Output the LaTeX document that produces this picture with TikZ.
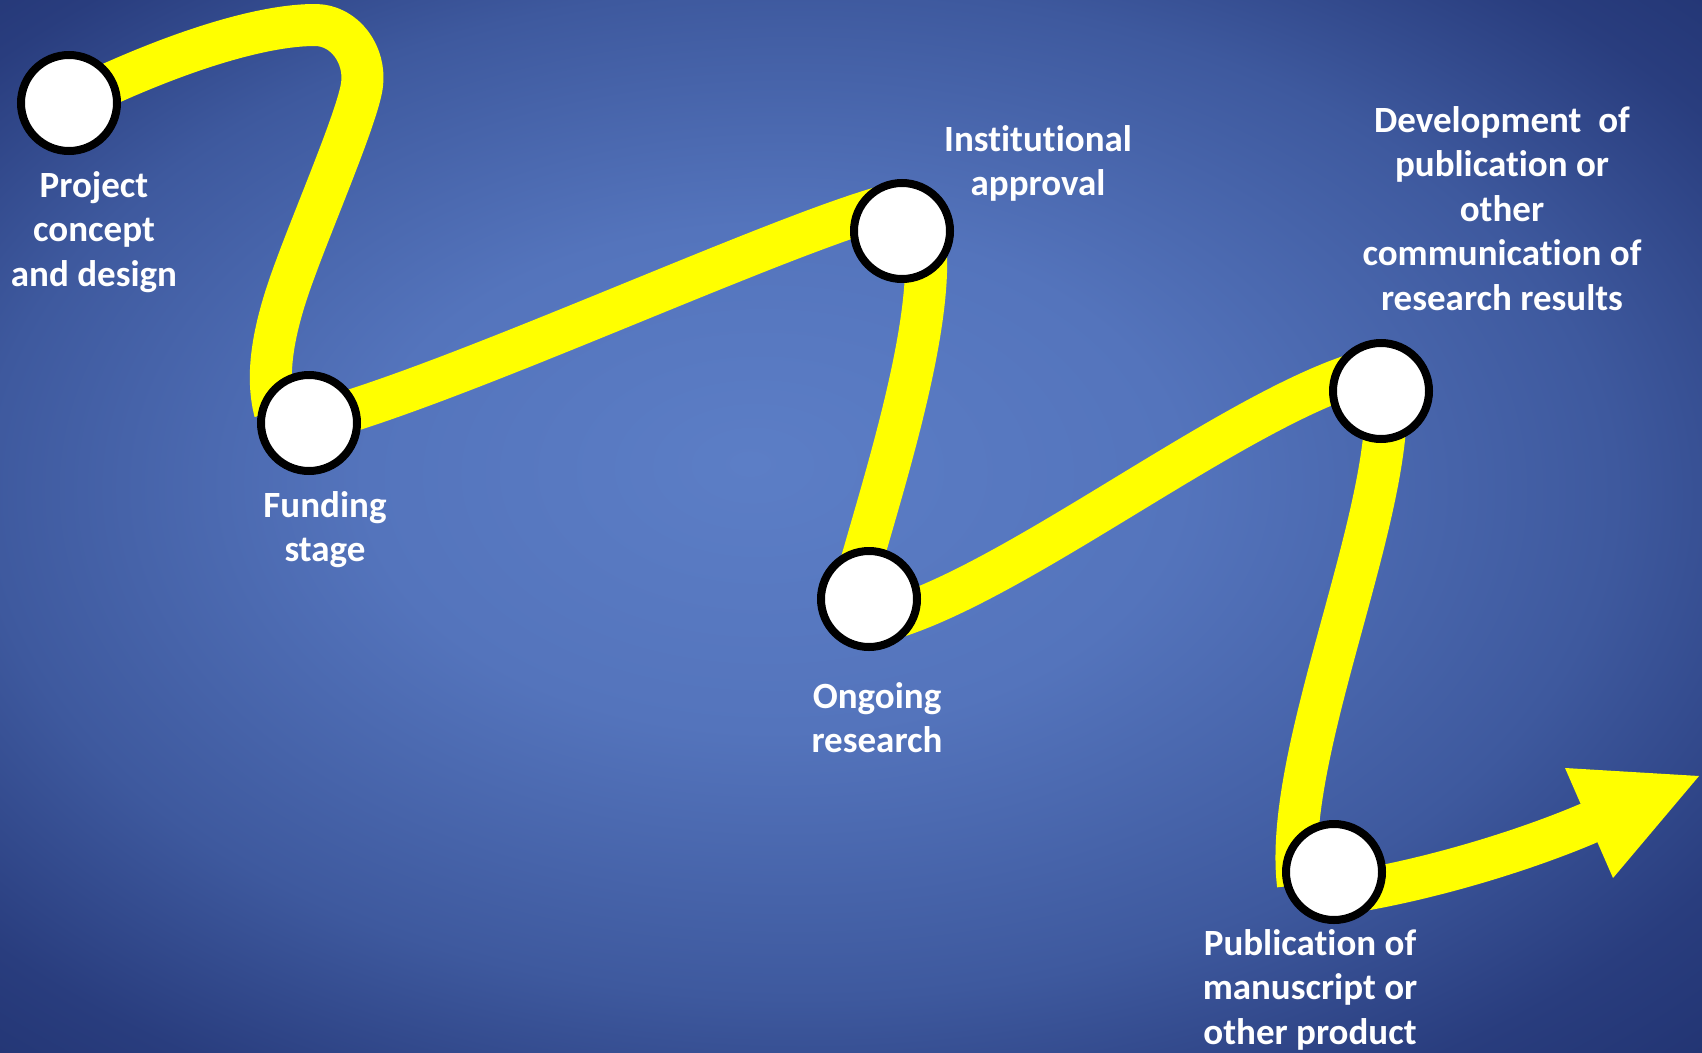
\documentclass[tikz,border=0pt]{standalone}
\usepackage{fontspec}
\setmainfont{Carlito}[Ligatures={NoCommon}]
\setlength{\tabcolsep}{0pt}
\pgfdeclarelayer{back}
\pgfdeclarelayer{roadlayer}
\pgfsetlayers{back,roadlayer,main}
\definecolor{bgA}{RGB}{92,126,198}
\definecolor{bgB}{RGB}{84,116,188}
\definecolor{bgC}{RGB}{62,89,158}
\definecolor{bgD}{RGB}{41,61,126}
\definecolor{bgE}{RGB}{30,47,108}
\definecolor{roadyellow}{RGB}{255,255,0}
\pgfdeclareradialshading{bgshade}{\pgfpoint{-3bp}{3bp}}{color(0bp)=(bgA); color(12bp)=(bgB); color(24bp)=(bgC); color(32bp)=(bgD); color(40bp)=(bgE); color(50bp)=(bgE)}
\tikzset{
  stage/.style={circle, draw=black, line width=8pt, fill=white, minimum size=96pt, inner sep=0pt},
  lbl/.style={text=white, font=\fontsize{37}{44.5}\selectfont\bfseries, inner sep=0pt, anchor=base},
  road/.style={draw=roadyellow, line width=42pt, line join=round, line cap=butt}
}
\begin{document}
\begin{tikzpicture}[x=1pt,y=-1pt]
\useasboundingbox (0,0) rectangle (1702,1052);
\begin{pgfonlayer}{back}
\shade[shading=bgshade] (0,0) rectangle (1702,1052);
\end{pgfonlayer}

% stages
\node[stage] (c1) at (69,103) {};
\node[stage] (c2) at (309,423) {};
\node[stage] (c3) at (902,231) {};
\node[stage] (c4) at (869,599) {};
\node[stage] (c5) at (1381,391) {};
\node[stage] (c6) at (1334,872) {};
\coordinate (base) at (1598,819);
\coordinate (h1) at (1565,768);
\coordinate (tip) at (1699,776);
\coordinate (h2) at (1613,878);

% road
\begin{pgfonlayer}{roadlayer}
\draw[road] (c1.center) .. controls (160,58) and (255,25) .. (315,25)
  .. controls (345,25) and (366,55) .. (362,85)
  .. controls (358,115) and (315,215) .. (296,267)
  .. controls (276,320) and (264,370) .. ([shift={(-34,-11)}]c2.center);
\draw[road] (c2.center) .. controls (450,387) and (770,238) .. ([shift={(-16,-25)}]c3.center);
\draw[road] ([shift={(23,9)}]c3.center) .. controls (935,330) and (878,500) .. ([shift={(-14,-14)}]c4.center);
\draw[road] ([shift={(21,20)}]c4.center) .. controls (1020,580) and (1232,411) .. ([shift={(-19,-19)}]c5.center);
\draw[road] ([shift={(5,19)}]c5.center) .. controls (1383,540) and (1283,760) .. ([shift={(-36,13)}]c6.center);
\draw[road] ([shift={(11,21)}]c6.center) .. controls (1440,878) and (1540,845) .. (base);
\fill[roadyellow] (h1) -- (tip) -- (h2) -- cycle;
\end{pgfonlayer}

% labels
\node[lbl] (t1) at (94,197) {\begin{tabular}[t]{c}Project\\concept\\and design\end{tabular}};
\node[lbl] (t2) at (325,517) {\begin{tabular}[t]{c}Funding\\stage\end{tabular}};
\node[lbl] (t3) at (1038,151) {\begin{tabular}[t]{c}Institutional\\approval\end{tabular}};
\node[lbl] (t4) at (877,708) {\begin{tabular}[t]{c}Ongoing\\research\end{tabular}};
\node[lbl] (t5) at (1502,132) {\begin{tabular}[t]{c}Development\ \ of\\publication or\\other\\communication of\\research results\end{tabular}};
\node[lbl] (t6) at (1310,955) {\begin{tabular}[t]{c}Publication of\\manuscript or\\other product\end{tabular}};
\end{tikzpicture}
\end{document}
